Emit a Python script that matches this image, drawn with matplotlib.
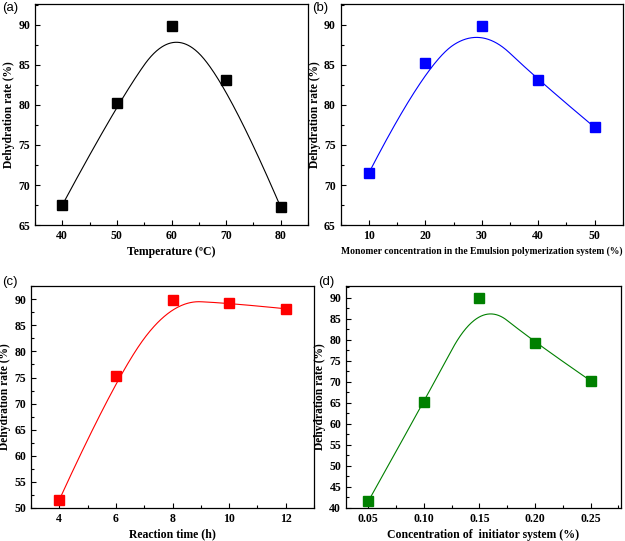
import numpy as np
import matplotlib.pyplot as plt
from matplotlib.ticker import MultipleLocator, FormatStrFormatter

# data
temp = [40, 50, 60, 70, 80]
temp_rate = [67.5, 80.2, 89.8, 83.1, 67.2]

monomer = [10, 20, 30, 40, 50]
monomer_rate = [71.5, 85.2, 89.8, 83.1, 77.2]

time_h = [4, 6, 8, 10, 12]
time_rate = [51.5, 75.2, 89.8, 89.3, 88.2]

initiator = [0.05, 0.10, 0.15, 0.20, 0.25]
initiator_rate = [41.5, 65.2, 89.8, 79.3, 70.2]


def bspline(px, py, n=300, k=2):
    # clamped B-spline using the data points as control points (like Origin's B-spline line)
    px = np.asarray(px, float)
    py = np.asarray(py, float)
    m = len(px)
    knots = np.concatenate([np.zeros(k), np.linspace(0, 1, m - k + 1), np.ones(k)])
    t = np.linspace(0, 1, n)
    t[-1] -= 1e-9

    def basis(i, d):
        if d == 0:
            return ((knots[i] <= t) & (t < knots[i + 1])).astype(float)
        out = np.zeros_like(t)
        den1 = knots[i + d] - knots[i]
        den2 = knots[i + d + 1] - knots[i + 1]
        if den1 > 0:
            out += (t - knots[i]) / den1 * basis(i, d - 1)
        if den2 > 0:
            out += (knots[i + d + 1] - t) / den2 * basis(i + 1, d - 1)
        return out

    B = np.array([basis(i, k) for i in range(m)])
    return B.T @ px, B.T @ py


plt.rcParams['font.family'] = 'Liberation Serif'
plt.rcParams['font.weight'] = 'bold'

fig = plt.figure(figsize=(6.25, 5.41), dpi=100)

panels = [
    ([0.056, 0.584, 0.437, 0.4085], temp, temp_rate, 'black', 'Temperature (\u00baC)',
     (35, 85), (65, 92.6), 10, 5, 5, 2.5, '%d', 8.5, '(a)', (0.004, 0.985)),
    ([0.545, 0.584, 0.4517, 0.4085], monomer, monomer_rate, 'blue',
     'Monomer concentration in the Emulsion polymerization system (%)',
     (5, 55), (65, 92.6), 10, 5, 5, 2.5, '%d', 6.9, '(b)', (0.499, 0.985)),
    ([0.0496, 0.0616, 0.4528, 0.410], time_h, time_rate, 'red', 'Reaction time (h)',
     (3, 13), (50, 92.6), 2, 1, 5, 2.5, '%d', 8.5, '(c)', (0.004, 0.479)),
    ([0.5536, 0.0616, 0.4395, 0.410], initiator, initiator_rate, 'green',
     'Concentration of  initiator system (%)',
     (0.03, 0.277), (40, 92.8), 0.05, 0.025, 5, 2.5, '%.2f', 8.5, '(d)', (0.509, 0.479)),
]

for (rect, x, y, color, xlabel, xlim, ylim, xmaj, xmin, ymaj, ymin, xfmt, xlsize,
     tag, tagpos) in panels:
    ax = fig.add_axes(rect)
    cx, cy = bspline(x, y)
    ax.plot(cx, cy, color=color, lw=0.8)
    ax.plot(x, y, 's', color=color, markersize=6.5)
    ax.set_xlim(*xlim)
    ax.set_ylim(*ylim)
    ax.xaxis.set_major_locator(MultipleLocator(xmaj))
    ax.xaxis.set_minor_locator(MultipleLocator(xmin))
    ax.yaxis.set_major_locator(MultipleLocator(ymaj))
    ax.yaxis.set_minor_locator(MultipleLocator(ymin))
    ax.xaxis.set_major_formatter(FormatStrFormatter(xfmt))
    ax.tick_params(which='both', direction='in', top=False, right=False,
                   labelsize=8.5, width=0.8)
    ax.tick_params(which='major', length=3.5)
    ax.tick_params(which='minor', length=2)
    for s in ax.spines.values():
        s.set_linewidth(0.9)
    ax.set_xlabel(xlabel, fontsize=xlsize, fontweight='bold', labelpad=3)
    ax.set_ylabel('Dehydration rate (%)', fontsize=8.3, fontweight='bold', labelpad=2)
    fig.text(tagpos[0], tagpos[1], tag, family='Liberation Sans', fontweight='normal',
             fontsize=9.5, va='center', ha='left')

fig.savefig('out.png', dpi=100)
